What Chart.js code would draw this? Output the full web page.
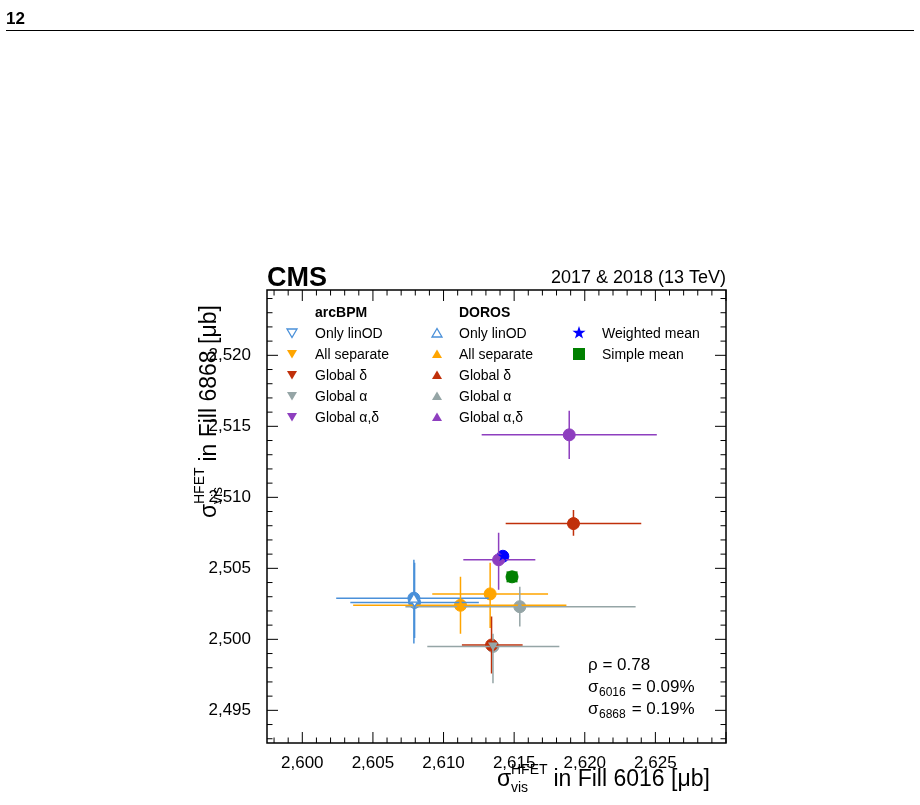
<!DOCTYPE html>
<html><head><meta charset="utf-8">
<script src="https://cdn.jsdelivr.net/npm/chart.js@4"></script>
<style>body{margin:0;background:#fff}#wrap{position:absolute;left:0;top:0;width:920px;height:805px}</style>
</head><body><div id="wrap"><canvas id="c" width="920" height="805"></canvas></div>
<script>
// ===== DATA =====
const names = ["arcBPM Only linOD","arcBPM All separate","arcBPM Global δ","arcBPM Global α","arcBPM Global α,δ",
  "DOROS Only linOD","DOROS All separate","DOROS Global δ","DOROS Global α","DOROS Global α,δ","Weighted mean","Simple mean"];
const xVal = [2607.95, 2613.3, 2613.4, 2613.5, 2613.9, 2607.9, 2611.2, 2619.2, 2615.4, 2618.9, 2614.2, 2614.85];
const yVal = [2502.6, 2503.2, 2499.6, 2499.5, 2505.6, 2502.9, 2502.4, 2508.15, 2502.3, 2514.4, 2505.85, 2504.4];
const xLo  = [2603.4, 2609.2, 2611.3, 2608.85, 2611.4, 2602.4, 2603.6, 2614.4, 2607.3, 2612.7, null, null];
const xHi  = [2612.5, 2617.4, 2615.6, 2618.2, 2616.5, 2613.2, 2618.7, 2624.0, 2623.6, 2625.1, null, null];
const yLo  = [2500.1, 2500.8, 2497.6, 2496.9, 2503.5, 2499.7, 2500.4, 2507.3, 2500.9, 2512.7, null, null];
const yHi  = [2505.4, 2505.4, 2501.6, 2500.4, 2507.5, 2505.6, 2504.4, 2509.1, 2503.7, 2516.1, null, null];
const colors = ["#4a90d9","#ffa500","#c0300a","#95a5a6","#8e3fbf","#4a90d9","#ffa500","#c0300a","#95a5a6","#8e3fbf","#0000ff","#008000"];
const shapes = ["down-open","down","down","down","down","up-open","up","up","up","up","star","square"];
const xTicks = [2600, 2605, 2610, 2615, 2620, 2625];
const yTicks = [2495, 2500, 2505, 2510, 2515, 2520];
const notes = [["ρ = 0.78",""],["σ","6016"," = 0.09%"],["σ","6868"," = 0.19%"]];

const FONT = '"Liberation Sans", Arial, sans-serif';

function drawMarker(ctx, shape, x, y, col, s) {
  ctx.save();
  ctx.fillStyle = col; ctx.strokeStyle = col; ctx.lineWidth = 1.3;
  ctx.beginPath();
  if (shape.startsWith("down")) {
    ctx.moveTo(x - s, y - s*0.8); ctx.lineTo(x + s, y - s*0.8); ctx.lineTo(x, y + s*0.9);
  } else if (shape.startsWith("up")) {
    ctx.moveTo(x - s, y + s*0.8); ctx.lineTo(x + s, y + s*0.8); ctx.lineTo(x, y - s*0.9);
  } else if (shape === "square") {
    ctx.rect(x - s, y - s, 2*s, 2*s);
  } else if (shape === "star") {
    for (let i = 0; i < 10; i++) {
      const r = i % 2 ? s*0.45 : s*1.15;
      const a = -Math.PI/2 + i*Math.PI/5;
      ctx.lineTo(x + r*Math.cos(a), y + r*Math.sin(a));
    }
  }
  ctx.closePath();
  if (shape.endsWith("open")) { ctx.fillStyle = "#fff"; ctx.fill(); ctx.stroke(); } else ctx.fill();
  ctx.restore();
}

const datasets = names.map((n, i) => ({
  label: n, data: [{x: xVal[i], y: yVal[i]}],
  pointRadius: 6, pointHoverRadius: 6, pointBackgroundColor: colors[i], pointBorderColor: colors[i],
  shape: shapes[i]
}));

// error bars + custom markers
const marks = {
  id: "marks",
  afterDatasetsDraw(chart) {
    const ctx = chart.ctx, xs = chart.scales.x, ys = chart.scales.y;
    ctx.save();
    ctx.lineWidth = 1.5;
    names.forEach((n, i) => {
      if (xLo[i] == null) return;
      ctx.strokeStyle = colors[i];
      const px = xs.getPixelForValue(xVal[i]), py = ys.getPixelForValue(yVal[i]);
      ctx.beginPath();
      ctx.moveTo(xs.getPixelForValue(xLo[i]), py); ctx.lineTo(xs.getPixelForValue(xHi[i]), py);
      ctx.moveTo(px, ys.getPixelForValue(yLo[i])); ctx.lineTo(px, ys.getPixelForValue(yHi[i]));
      ctx.stroke();
    });
    names.forEach((n, i) => {
      const s = shapes[i] === "square" ? 5.5 : 5;
      drawMarker(ctx, shapes[i], xs.getPixelForValue(xVal[i]), ys.getPixelForValue(yVal[i]), colors[i], s);
    });
    ctx.restore();
  }
};

// frame ticks, texts, legend
const deco = {
  id: "deco",
  afterDraw(chart) {
    const ctx = chart.ctx, a = chart.chartArea, xs = chart.scales.x, ys = chart.scales.y;
    ctx.save();
    ctx.strokeStyle = "#000"; ctx.lineWidth = 1.5;
    ctx.strokeRect(a.left, a.top, a.right - a.left, a.bottom - a.top);
    ctx.lineWidth = 1;
    ctx.beginPath();
    for (let v = 2598; v <= 2630; v++) {
      const p = xs.getPixelForValue(v); if (p < a.left || p > a.right) continue;
      const L = v % 5 === 0 ? 11 : 5.5;
      ctx.moveTo(p, a.bottom); ctx.lineTo(p, a.bottom - L);
      ctx.moveTo(p, a.top); ctx.lineTo(p, a.top + L);
    }
    for (let v = 2493; v <= 2524; v++) {
      const p = ys.getPixelForValue(v); if (p < a.top || p > a.bottom) continue;
      const L = v % 5 === 0 ? 11 : 5.5;
      ctx.moveTo(a.left, p); ctx.lineTo(a.left + L, p);
      ctx.moveTo(a.right, p); ctx.lineTo(a.right - L, p);
    }
    ctx.stroke();

    // page header
    ctx.fillStyle = "#000";
    ctx.font = "bold 17px " + FONT; ctx.textAlign = "left"; ctx.textBaseline = "alphabetic";
    ctx.fillText("12", 6, 24);
    ctx.beginPath(); ctx.moveTo(6, 30.5); ctx.lineTo(914, 30.5); ctx.stroke();

    // CMS / lumi
    ctx.font = "bold 27px " + FONT; ctx.fillText("CMS", a.left, a.top - 4);
    ctx.font = "18px " + FONT; ctx.textAlign = "right"; ctx.fillText("2017 & 2018 (13 TeV)", a.right, a.top - 7);

    // x title
    ctx.textAlign = "left";
    let x = a.right - 229, y = 786;
    ctx.font = "23px " + FONT; ctx.fillText("σ", x, y);
    ctx.font = "14px " + FONT; ctx.fillText("HFET", x + 14, y - 12); ctx.fillText("vis", x + 14, y + 6);
    ctx.font = "23px " + FONT; ctx.fillText(" in Fill 6016 [μb]", x + 50, y);
    // y title
    ctx.save(); ctx.translate(216, a.top + 228); ctx.rotate(-Math.PI/2);
    ctx.font = "23px " + FONT; ctx.fillText("σ", 0, 0);
    ctx.font = "14px " + FONT; ctx.fillText("HFET", 14, -12); ctx.fillText("vis", 14, 6);
    ctx.font = "23px " + FONT; ctx.fillText(" in Fill 6868 [μb]", 50, 0);
    ctx.restore();

    // notes
    ctx.font = "17px " + FONT;
    [670, 692, 714].forEach((ny, k) => {
      const t = notes[k];
      if (t.length === 2) { ctx.fillText(t[0], 588, ny); return; }
      ctx.font = "17px " + FONT; ctx.fillText(t[0], 588, ny);
      ctx.font = "12px " + FONT; ctx.fillText(t[1], 599, ny + 4);
      ctx.font = "17px " + FONT; ctx.fillText(t[2], 627, ny);
    });

    // legend
    ctx.font = "bold 14px " + FONT; ctx.fillStyle = "#000";
    ctx.fillText("arcBPM", 315, 317); ctx.fillText("DOROS", 459, 317);
    ctx.font = "14px " + FONT;
    const rowsY = [333, 354, 375, 396, 417];
    const labs = ["Only linOD", "All separate", "Global δ", "Global α", "Global α,δ"];
    for (let r = 0; r < 5; r++) {
      drawMarker(ctx, shapes[r], 292, rowsY[r], colors[r], 5);
      ctx.fillStyle = "#000"; ctx.fillText(labs[r], 315, rowsY[r] + 5);
      drawMarker(ctx, shapes[r + 5], 437, rowsY[r], colors[r + 5], 5);
      ctx.fillStyle = "#000"; ctx.fillText(labs[r], 459, rowsY[r] + 5);
    }
    drawMarker(ctx, "star", 579, 333, colors[10], 6);
    drawMarker(ctx, "square", 579, 354, colors[11], 6);
    ctx.fillStyle = "#000";
    ctx.fillText("Weighted mean", 602, 338); ctx.fillText("Simple mean", 602, 359);
    ctx.restore();
  }
};

new Chart(document.getElementById("c"), {
  type: "scatter",
  data: { datasets },
  options: {
    responsive: false, animation: false,
    layout: { padding: { left: 197, top: 290, right: 194, bottom: 0 } },
    plugins: { legend: { display: false }, tooltip: { enabled: false } },
    elements: { point: { radius: 0 } },
    scales: {
      x: {
        type: "linear", min: 2597.5, max: 2630,
        afterBuildTicks: s => { s.ticks = xTicks.map(v => ({ value: v })); },
        afterFit: s => { s.height = 62; },
        grid: { display: false }, border: { display: false },
        ticks: { color: "#000", font: { size: 17, family: FONT }, padding: 2 }
      },
      y: {
        type: "linear", min: 2492.7, max: 2524.6,
        afterBuildTicks: s => { s.ticks = yTicks.map(v => ({ value: v })); },
        afterFit: s => { s.width = 70; },
        grid: { display: false }, border: { display: false },
        ticks: { color: "#000", font: { size: 17, family: FONT }, padding: 8 }
      }
    }
  },
  plugins: [marks, deco]
});
</script>
</body></html>
